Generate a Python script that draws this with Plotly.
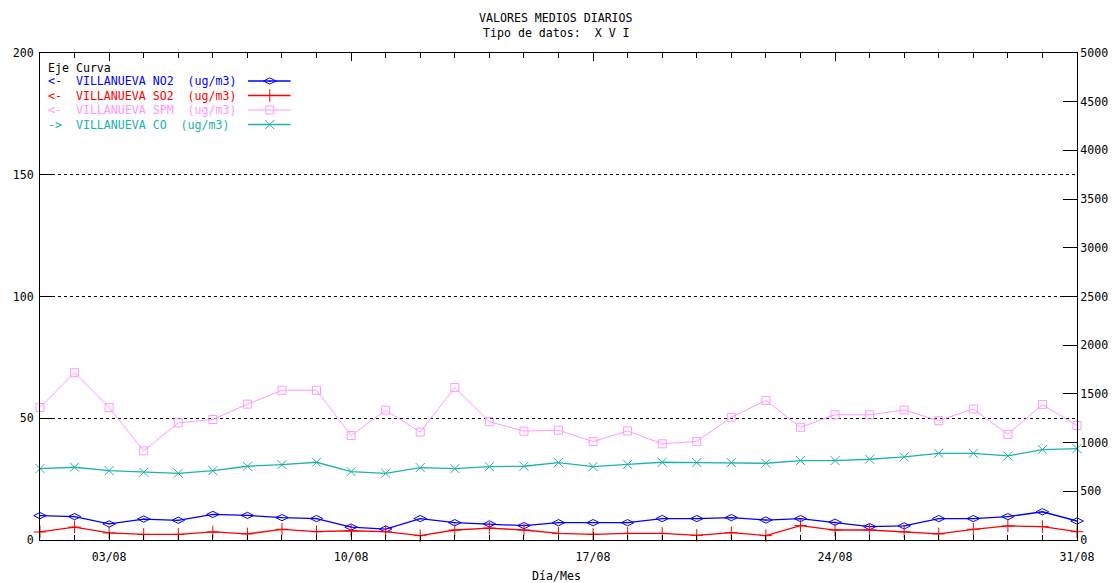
import plotly.graph_objects as go

days = list(range(1, 32))
tick_days = [3, 10, 17, 24, 31]
tick_labels = ["03/08", "10/08", "17/08", "24/08", "31/08"]

no2 = [10.0, 9.6, 6.6, 8.6, 8.1, 10.5, 10.1, 9.2, 8.8, 5.3, 4.5, 8.8, 7.1, 6.6, 5.9, 7.1,
       7.1, 7.1, 8.8, 8.8, 9.2, 8.2, 8.8, 7.3, 5.5, 5.8, 8.8, 8.8, 9.6, 11.6, 7.8]
so2 = [3.3, 5.3, 2.9, 2.3, 2.3, 3.3, 2.5, 4.4, 3.4, 3.8, 3.4, 1.8, 4.1, 4.9, 4.1, 2.7,
       2.3, 2.7, 2.7, 1.9, 3.0, 1.8, 5.9, 4.1, 4.1, 3.4, 2.5, 4.4, 5.8, 5.5, 3.4]
spm = [54.4, 68.7, 54.4, 36.6, 48.1, 49.5, 55.8, 61.5, 61.5, 42.9, 53.3, 44.3, 62.6, 48.6,
       44.7, 45.1, 40.4, 44.8, 39.5, 40.5, 50.4, 57.3, 46.3, 51.4, 51.4, 53.4, 49.0, 53.8,
       43.4, 55.6, 47.0]
co = [733, 747, 712, 695, 685, 712, 757, 774, 798, 702, 685, 743, 733, 753, 757, 795,
      753, 777, 798, 795, 795, 788, 815, 815, 829, 853, 890, 890, 863, 928, 938]

left_ticks = [0, 50, 100, 150, 200]
right_ticks = list(range(0, 5001, 500))

BLUE = "#0000ff"
RED = "#ff0000"
PINK = "#ff99ff"
TEAL = "#20b2aa"
FONT = "DejaVu Sans Mono"
FS = 11.6

series = [
    dict(name="VILLANUEVA NO2", y=no2, color=BLUE, sym="diamond-wide-open-dot", size=9, lw=1.3, axis="y", arrow="&lt;-"),
    dict(name="VILLANUEVA SO2", y=so2, color=RED, sym="cross-thin-open", size=9, lw=1.3, axis="y", arrow="&lt;-"),
    dict(name="VILLANUEVA SPM", y=spm, color=PINK, sym="square-open", size=8, lw=1, axis="y", arrow="&lt;-"),
    dict(name="VILLANUEVA CO", y=co, color=TEAL, sym="x-thin-open", size=9, lw=1.3, axis="y2", arrow="-&gt;"),
]

fig = go.Figure()
for s in series:
    fig.add_trace(go.Scatter(
        x=days, y=s["y"], yaxis=s["axis"], mode="lines+markers",
        line=dict(color=s["color"], width=s["lw"]),
        marker=dict(symbol=s["sym"], size=s["size"], color=s["color"], line=dict(width=1, color=s["color"])),
        showlegend=False, cliponaxis=False,
    ))

# legend built in pixel-like coordinates of the plot area (hidden axes)
L, R, T, B = 40, 1087, 53, 540
rows_y = [81, 95.5, 110, 124.5]
annotations = [dict(x=46, y=67.5, xref="x3", yref="y3", text="Eje&nbsp;Curva", showarrow=False,
                    xanchor="left", yanchor="middle", font=dict(family=FONT, size=FS, color="black"))]
for s, ry in zip(series, rows_y):
    txt = s["arrow"] + "&nbsp;&nbsp;" + s["name"].replace(" ", "&nbsp;") + "&nbsp;&nbsp;(ug/m3)"
    annotations.append(dict(x=46, y=ry, xref="x3", yref="y3", text=txt, showarrow=False,
                            xanchor="left", yanchor="middle", font=dict(family=FONT, size=FS, color=s["color"])))
    fig.add_trace(go.Scatter(
        x=[250, 272, 293], y=[ry, ry, ry], xaxis="x3", yaxis="y3", mode="lines+markers",
        line=dict(color=s["color"], width=s["lw"]),
        marker=dict(symbol=s["sym"], size=s["size"], color=s["color"], opacity=[0, 1, 0],
                    line=dict(width=1, color=s["color"])),
        showlegend=False, hoverinfo="skip",
    ))

annotations += [
    dict(x=0.4976, y=(B - 18) / (B - T), xref="paper", yref="paper", text="VALORES&nbsp;MEDIOS&nbsp;DIARIOS",
         showarrow=False, xanchor="center", yanchor="middle", font=dict(family=FONT, size=FS, color="black")),
    dict(x=0.4976, y=(B - 33) / (B - T), xref="paper", yref="paper", text="Tipo&nbsp;de&nbsp;datos:&nbsp;&nbsp;X&nbsp;V&nbsp;I",
         showarrow=False, xanchor="center", yanchor="middle", font=dict(family=FONT, size=FS, color="black")),
    dict(x=0.4976, y=(B - 576) / (B - T), xref="paper", yref="paper", text="Día/Mes",
         showarrow=False, xanchor="center", yanchor="middle", font=dict(family=FONT, size=FS, color="black")),
]

tickfont = dict(family=FONT, size=FS, color="black")
fig.update_layout(
    width=1120, height=583,
    margin=dict(l=L, r=1120 - R, t=T, b=583 - B, pad=0),
    paper_bgcolor="white", plot_bgcolor="white",
    showlegend=False,
    annotations=annotations,
    xaxis=dict(range=[1, 31], tickvals=tick_days, ticktext=tick_labels, ticks="inside", ticklen=8,
               tickcolor="black", showline=True, linecolor="black", linewidth=1, mirror="ticks",
               showgrid=False, zeroline=False, tickfont=tickfont, ticklabelstandoff=6,
               minor=dict(dtick=1, tick0=1, ticks="inside", ticklen=5, tickcolor="black", showgrid=False)),
    yaxis=dict(range=[0, 200], tickvals=left_ticks, ticks="inside", ticklen=12, tickcolor="black",
               showline=True, linecolor="black", linewidth=1, showgrid=True, gridcolor="black",
               griddash="dot", gridwidth=1, zeroline=False, tickfont=tickfont, ticklabelstandoff=3),
    yaxis2=dict(range=[0, 5000], tickvals=right_ticks, overlaying="y", side="right", ticks="inside",
                ticklen=14, tickcolor="black", showline=True, linecolor="black", linewidth=1,
                showgrid=False, zeroline=False, tickfont=tickfont),
    xaxis3=dict(range=[L, R], overlaying="x", anchor="y3", visible=False),
    yaxis3=dict(range=[B, T], overlaying="y", anchor="x3", visible=False),
)

fig.write_html("out.html", config={"displayModeBar": False},
               post_script="document.body.style.margin='0px';document.body.style.overflow='hidden';")
